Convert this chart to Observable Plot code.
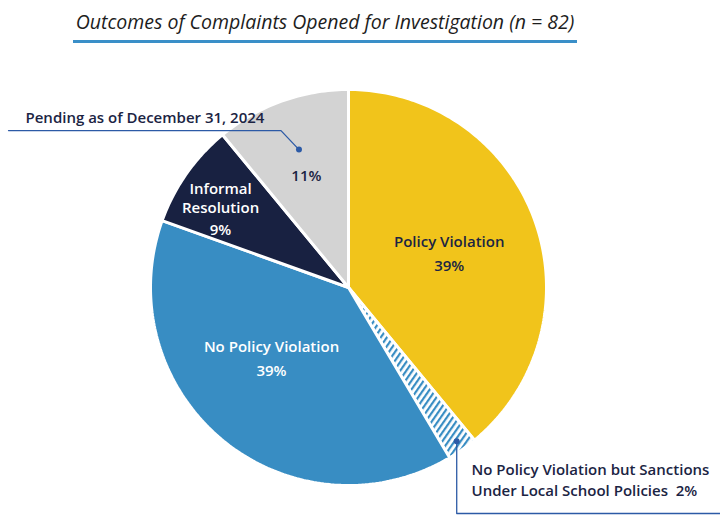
<!DOCTYPE html>
<html>
<head>
<meta charset="utf-8">
<script src="https://cdn.jsdelivr.net/npm/d3@7"></script>
<script src="https://cdn.jsdelivr.net/npm/@observablehq/plot@0.6"></script>
<style>
  body { margin: 0; background: #fff; font-family: "Open Sans", sans-serif; }
  #wrap { width: 720px; height: 523px; position: relative; }
  #title { position: absolute; left: 73px; width: 504px; top: 7px; height: 33px;
           text-align: center; font-style: italic; font-size: 19.5px; color: #1d1d1d;
           border-bottom: 3px solid #3a8fc8; line-height: 30px; white-space: nowrap; }
  #chart { position: absolute; left: 0; top: 50px; }
</style>
</head>
<body>
<div id="wrap">
  <div id="title">Outcomes of Complaints Opened for Investigation (n = 82)</div>
  <div id="chart"></div>
</div>
<script>
// ---- data ----
const categories = [
  "Policy Violation",
  "No Policy Violation but Sanctions Under Local School Policies",
  "No Policy Violation",
  "Informal Resolution",
  "Pending as of December 31, 2024"
];
const counts = [32, 2, 32, 7, 9];
const percentLabels = ["39%", "2%", "39%", "9%", "11%"];
const total = 82;

// ---- styles / layout ----
const fills = ["#f1c41b", "url(#hatch)", "#388dc3", "#182141", "#d3d3d3"];
const textColors = ["#1b2443", null, "#ffffff", "#ffffff", "#1b2443"];
const R = 198;
const W = 720, H = 473;
// svg coordinates of pie center: (348, 237)
const xDomain = [-348, W - 348];
const yDomain = [-(H - 237), 237];

// slice geometry from data
const pie = d3.pie().sort(null).value(d => d)(counts);
const slicePts = [];
pie.forEach((p, i) => {
  const a0 = p.startAngle, a1 = p.endAngle;
  const n = Math.max(2, Math.ceil((a1 - a0) / (Math.PI / 180)));
  slicePts.push({k: i, x: 0, y: 0});
  for (let j = 0; j <= n; j++) {
    const a = a0 + (a1 - a0) * j / n;
    slicePts.push({k: i, x: R * Math.sin(a), y: R * Math.cos(a)});
  }
  slicePts.push({k: i, x: 0, y: 0});
});
const mid = i => (pie[i].startAngle + pie[i].endAngle) / 2;
const polar = (a, r) => ({x: r * Math.sin(a), y: r * Math.cos(a)});

// label placement (angle offset in degrees, radius fraction)
const labelPlace = {0: [-5, 0.56], 2: [13, 0.49], 3: [0, 0.79], 4: [-1, 0.60]};
const nameLabels = [];
const pctLabels = [];
[0, 2, 3, 4].forEach(i => {
  const [da, rf] = labelPlace[i];
  const p = polar(mid(i) + da * Math.PI / 180, rf * R);
  const name = i === 3 ? "Informal\nResolution" : categories[i];
  if (i !== 4) nameLabels.push({...p, t: name, c: textColors[i]});
  pctLabels.push({...p, t: percentLabels[i], c: textColors[i], dy: i === 4 ? 0 : (i === 3 ? 33 : 25)});
});

// leader lines
const pendDot = polar(mid(4), 0.74 * R);
const sancDot = polar(mid(1), 0.95 * R);
const leaders = [
  {g: 0, ...pendDot}, {g: 0, x: pendDot.x - 18, y: pendDot.y + 19}, {g: 0, x: -340, y: pendDot.y + 19},
  {g: 1, ...sancDot}, {g: 1, x: sancDot.x, y: -226}, {g: 1, x: W - 348, y: -226}
];

const plot = Plot.plot({
  width: W, height: H,
  margin: 0,
  x: {domain: xDomain, axis: null},
  y: {domain: yDomain, axis: null},
  color: {type: "identity"},
  marks: [
    Plot.line(slicePts, {x: "x", y: "y", z: "k", fill: d => fills[d.k], stroke: "#ffffff", strokeWidth: 3, strokeLinejoin: "miter"}),
    Plot.line(leaders, {x: "x", y: "y", z: "g", stroke: "#2c5aa6", strokeWidth: 1.3}),
    Plot.dot([pendDot, sancDot], {x: "x", y: "y", r: 3, fill: "#2c5aa6"}),
    Plot.text(nameLabels, {x: "x", y: "y", text: "t", fill: "c", fontSize: 15, fontWeight: 600, lineHeight: 1.22, fontFamily: "Open Sans"}),
    Plot.text(pctLabels, {x: "x", y: "y", text: "t", fill: "c", fontSize: 15, fontWeight: 600, fontFamily: "Open Sans"}),
    Plot.text([categories[4]], {x: -323, y: pendDot.y + 31, text: d => d, textAnchor: "start", fill: "#1b2443", fontSize: 15, fontWeight: 600, fontFamily: "Open Sans"}),
    Plot.text(["No Policy Violation but Sanctions", "Under Local School Policies  " + percentLabels[1]], {x: 123, y: (d, i) => -183 - 21 * i, text: d => d, textAnchor: "start", fill: "#1b2443", fontSize: 15, fontWeight: 600, fontFamily: "Open Sans"})
  ]
});
// percent labels offset below names
plot.querySelectorAll("g[aria-label='text']")[1].querySelectorAll("text").forEach((t, j) => {
  const d = pctLabels[j];
  const tr = t.getAttribute("transform") || "";
  t.setAttribute("transform", tr + ` translate(0,${d.dy})`);
});
const defs = document.createElementNS("http://www.w3.org/2000/svg", "defs");
defs.innerHTML = `<pattern id="hatch" patternUnits="userSpaceOnUse" width="5" height="5" patternTransform="rotate(35)">
  <rect width="5" height="5" fill="#ffffff"/><rect width="2.2" height="5" fill="#388dc3"/></pattern>`;
plot.insertBefore(defs, plot.firstChild);
document.getElementById("chart").appendChild(plot);
</script>
</body>
</html>
